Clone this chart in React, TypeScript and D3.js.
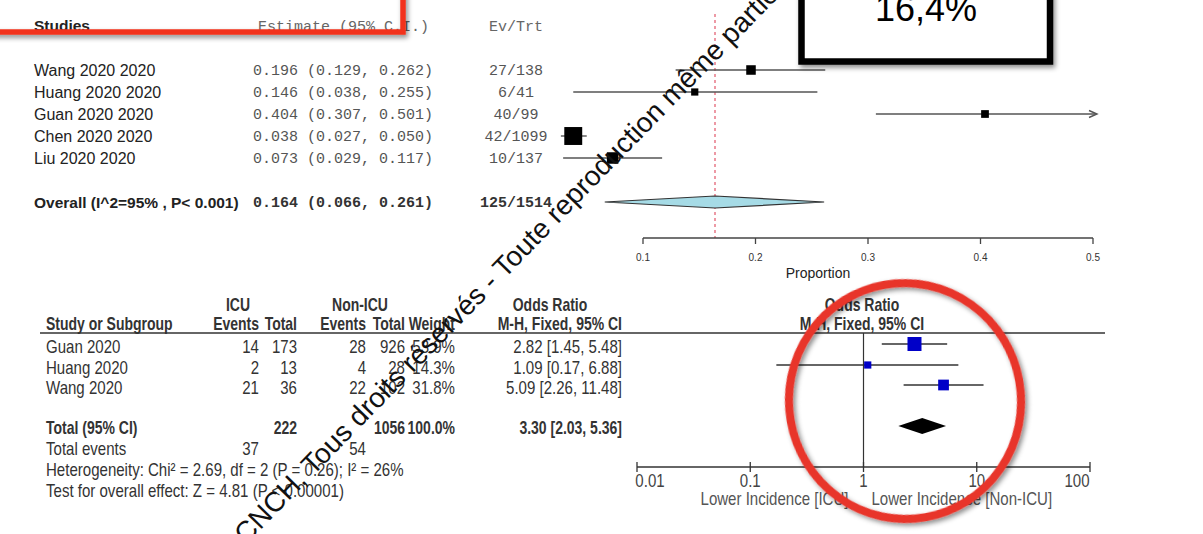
import React from "react";
import * as d3 from "d3";

// ---------- Top forest (proportion) data ----------
const topStudies = ["Wang 2020 2020", "Huang 2020 2020", "Guan 2020 2020", "Chen 2020 2020", "Liu 2020 2020"];
const topEst = [0.196, 0.146, 0.404, 0.038, 0.073];
const topLo = [0.129, 0.038, 0.307, 0.027, 0.029];
const topHi = [0.262, 0.255, 0.501, 0.05, 0.117];
const topEvTrt = ["27/138", "6/41", "40/99", "42/1099", "10/137"];
const overallLabel = "Overall (I^2=95% , P< 0.001)";
const overallEst = 0.164;
const overallLo = 0.066;
const overallHi = 0.261;
const overallEvTrt = "125/1514";
const topTicks = [0.1, 0.2, 0.3, 0.4, 0.5];

// ---------- Bottom forest (odds ratio) data ----------
const orStudies = ["Guan 2020", "Huang 2020", "Wang 2020"];
const icuEvents = [14, 2, 21];
const icuTotal = [173, 13, 36];
const nonIcuEvents = [28, 4, 22];
const nonIcuTotal = [926, 28, 102];
const orWeight = [53.9, 14.3, 31.8];
const orEst = [2.82, 1.09, 5.09];
const orLo = [1.45, 0.17, 2.26];
const orHi = [5.48, 6.88, 11.48];
const orTotalEst = 3.3;
const orTotalLo = 2.03;
const orTotalHi = 5.36;
const orTicks = [0.01, 0.1, 1, 10, 100];
const orTickLabels = ["0.01", "0.1", "1", "10", "100"];
const heterogeneity = "Heterogeneity: Chi\u00b2 = 2.69, df = 2 (P = 0.26); I\u00b2 = 26%";
const overallEffect = "Test for overall effect: Z = 4.81 (P < 0.00001)";
const highlight = "16,4%";
const watermark = "CNCH, Tous droits r\u00e9serv\u00e9s - Toute reproduction m\u00eame partielle interdite";

const SANS = "'Liberation Sans', Arial, sans-serif";
const MONO = "'Liberation Mono', 'Courier New', monospace";

// narrow text helper for the RevMan table
function N({ x, y, anchor = "start", bold = false, fill = "#333", children }: any) {
  return (
    <text
      transform={`translate(${x},${y}) scale(${bold ? 0.8 : 0.86},1)`}
      textAnchor={anchor}
      fontFamily={SANS}
      fontSize={17.5}
      fontWeight={bold ? "bold" : "normal"}
      fill={fill}
    >
      {children}
    </text>
  );
}

export default function App() {
  // ---- top scales ----
  const xTop = d3.scaleLinear().domain([0.1, 0.5]).range([643, 1093]);
  const topRowsY = [70, 92, 114, 136, 158];
  const overallY = 202;
  const topAxisY = 238;
  const invVar = topLo.map((lo, i) => 1 / Math.pow((topHi[i] - lo) / 3.92, 2));
  const boxSize = d3.scaleLog().domain([300, 30000]).range([7, 18]).clamp(true);
  const [tMin, tMax] = xTop.domain();

  // ---- bottom scales ----
  const xOr = d3.scaleLog().domain([0.01, 100]).range([637, 1090]);
  const orRowsY = [347, 368, 388];
  const orTotalY = 428;
  const orAxisY = 467;
  const orBox = d3.scaleSqrt().domain([0, d3.max(orWeight) as number]).range([0, 14]);
  const fmt2 = d3.format(".2f");
  const fmt3 = d3.format(".3f");
  const fmtW = (w: number) => d3.format(".1f")(w) + "%";

  const colEnds = { icuEv: 259, icuTot: 297, nonEv: 366, nonTot: 405, weight: 455, ci: 622 };

  return (
    <svg
      width={1203}
      height={534}
      style={{ position: "absolute", left: 0, top: 0, background: "#fff" }}
      xmlns="http://www.w3.org/2000/svg"
    >
      <defs>
        <filter id="shadow" x="-20%" y="-20%" width="140%" height="140%">
          <feDropShadow dx="2" dy="3" stdDeviation="2.5" floodColor="#000" floodOpacity="0.45" />
        </filter>
      </defs>
      <rect x={0} y={0} width={1203} height={534} fill="#fff" />

      {/* ================= TOP TABLE ================= */}
      <text x={34} y={31} fontFamily={SANS} fontSize={15.5} fontWeight="bold" fill="#222">Studies</text>
      <text x={258} y={31} fontFamily={MONO} fontSize={15} fill="#666">Estimate (95% C.I.)</text>
      <text x={516} y={31} fontFamily={MONO} fontSize={15} fill="#666" textAnchor="middle">Ev/Trt</text>

      {topStudies.map((s, i) => (
        <g key={s}>
          <text x={34} y={topRowsY[i] + 5.5} fontFamily={SANS} fontSize={16} fill="#222">{s}</text>
          <text x={253} y={topRowsY[i] + 5} fontFamily={MONO} fontSize={15} fill="#555">
            {`${fmt3(topEst[i])} (${fmt3(topLo[i])}, ${fmt3(topHi[i])})`}
          </text>
          <text x={516} y={topRowsY[i] + 5} fontFamily={MONO} fontSize={15} fill="#555" textAnchor="middle">
            {topEvTrt[i]}
          </text>
        </g>
      ))}
      <text x={34} y={overallY + 5.5} fontFamily={SANS} fontSize={15.5} fontWeight="bold" fill="#222">{overallLabel}</text>
      <text x={253} y={overallY + 5} fontFamily={MONO} fontSize={15} fontWeight="bold" fill="#333">
        {`${fmt3(overallEst)} (${fmt3(overallLo)}, ${fmt3(overallHi)})`}
      </text>
      <text x={516} y={overallY + 5} fontFamily={MONO} fontSize={15} fontWeight="bold" fill="#333" textAnchor="middle">
        {overallEvTrt}
      </text>

      {/* ================= TOP FOREST ================= */}
      <line
        x1={xTop(overallEst)}
        x2={xTop(overallEst)}
        y1={14}
        y2={topAxisY}
        stroke="#e2576a"
        strokeWidth={1.2}
        strokeDasharray="3,3"
      />
      {topStudies.map((s, i) => {
        const y = topRowsY[i];
        const over = topHi[i] > tMax;
        const x1 = xTop(topLo[i]);
        const x2 = over ? xTop(tMax) + 3 : xTop(topHi[i]);
        const sz = boxSize(invVar[i]);
        return (
          <g key={"tf" + s}>
            <line x1={x1} x2={x2} y1={y} y2={y} stroke="#555" strokeWidth={1.4} />
            {over && (
              <path d={`M${x2 - 7},${y - 3.5} L${x2 + 1},${y} L${x2 - 7},${y + 3.5}`} fill="none" stroke="#555" strokeWidth={1.4} />
            )}
            <rect x={xTop(topEst[i]) - sz / 2} y={y - sz / 2} width={sz} height={sz} fill="#000" />
          </g>
        );
      })}
      <path
        d={`M${xTop(overallLo)},${overallY} L${xTop(overallEst)},${overallY - 6} L${xTop(overallHi)},${overallY} L${xTop(overallEst)},${overallY + 6} Z`}
        fill="#a6dbe6"
        stroke="#333"
        strokeWidth={1.2}
      />
      <line x1={xTop(tMin)} x2={xTop(tMax)} y1={topAxisY} y2={topAxisY} stroke="#444" strokeWidth={1.3} />
      {topTicks.map((t) => (
        <g key={"tt" + t}>
          <line x1={xTop(t)} x2={xTop(t)} y1={topAxisY} y2={topAxisY + 6} stroke="#444" strokeWidth={1.3} />
          <text x={xTop(t)} y={topAxisY + 23} fontFamily={SANS} fontSize={10} fill="#333" textAnchor="middle">
            {String(t)}
          </text>
        </g>
      ))}
      <text x={818} y={278} fontFamily={SANS} fontSize={14} fill="#222" textAnchor="middle">Proportion</text>

      {/* ================= BOTTOM TABLE ================= */}
      <N x={238} y={311} anchor="middle" bold>ICU</N>
      <N x={360} y={311} anchor="middle" bold>Non-ICU</N>
      <N x={550} y={311} anchor="middle" bold>Odds Ratio</N>
      <N x={862} y={311} anchor="middle" bold>Odds Ratio</N>
      <N x={46} y={330} bold>Study or Subgroup</N>
      <N x={colEnds.icuEv} y={330} anchor="end" bold>Events</N>
      <N x={colEnds.icuTot} y={330} anchor="end" bold>Total</N>
      <N x={colEnds.nonEv} y={330} anchor="end" bold>Events</N>
      <N x={colEnds.nonTot} y={330} anchor="end" bold>Total</N>
      <N x={colEnds.weight} y={330} anchor="end" bold>Weight</N>
      <N x={colEnds.ci} y={330} anchor="end" bold>M-H, Fixed, 95% CI</N>
      <N x={862} y={330} anchor="middle" bold>M-H, Fixed, 95% CI</N>
      <line x1={40} x2={1105} y1={333} y2={333} stroke="#333" strokeWidth={1.3} />

      {orStudies.map((s, i) => {
        const y = orRowsY[i] + 6;
        return (
          <g key={"or" + s}>
            <N x={46} y={y}>{s}</N>
            <N x={colEnds.icuEv} y={y} anchor="end">{icuEvents[i]}</N>
            <N x={colEnds.icuTot} y={y} anchor="end">{icuTotal[i]}</N>
            <N x={colEnds.nonEv} y={y} anchor="end">{nonIcuEvents[i]}</N>
            <N x={colEnds.nonTot} y={y} anchor="end">{nonIcuTotal[i]}</N>
            <N x={colEnds.weight} y={y} anchor="end">{fmtW(orWeight[i])}</N>
            <N x={colEnds.ci} y={y} anchor="end">{`${fmt2(orEst[i])} [${fmt2(orLo[i])}, ${fmt2(orHi[i])}]`}</N>
          </g>
        );
      })}
      <N x={46} y={orTotalY + 6} bold>Total (95% CI)</N>
      <N x={colEnds.icuTot} y={orTotalY + 6} anchor="end" bold>{d3.sum(icuTotal)}</N>
      <N x={colEnds.nonTot} y={orTotalY + 6} anchor="end" bold>{d3.sum(nonIcuTotal)}</N>
      <N x={colEnds.weight} y={orTotalY + 6} anchor="end" bold>{fmtW(d3.sum(orWeight))}</N>
      <N x={colEnds.ci} y={orTotalY + 6} anchor="end" bold>{`${fmt2(orTotalEst)} [${fmt2(orTotalLo)}, ${fmt2(orTotalHi)}]`}</N>
      <N x={46} y={455}>Total events</N>
      <N x={colEnds.icuEv} y={455} anchor="end">{d3.sum(icuEvents)}</N>
      <N x={colEnds.nonEv} y={455} anchor="end">{d3.sum(nonIcuEvents)}</N>
      <N x={46} y={476}>{heterogeneity}</N>
      <N x={46} y={497}>{overallEffect}</N>

      {/* ================= BOTTOM FOREST ================= */}
      <line x1={xOr(1)} x2={xOr(1)} y1={333} y2={orAxisY} stroke="#333" strokeWidth={1.2} />
      {orStudies.map((s, i) => {
        const y = orRowsY[i] - 3;
        const sz = orBox(orWeight[i]);
        return (
          <g key={"orf" + s}>
            <line x1={xOr(orLo[i])} x2={xOr(orHi[i])} y1={y} y2={y} stroke="#333" strokeWidth={1.3} />
            <rect x={xOr(orEst[i]) - sz / 2} y={y - sz / 2} width={sz} height={sz} fill="#0000c8" />
          </g>
        );
      })}
      <path
        d={`M${xOr(orTotalLo)},${orTotalY - 2} L${xOr(orTotalEst)},${orTotalY - 10} L${xOr(orTotalHi)},${orTotalY - 2} L${xOr(orTotalEst)},${orTotalY + 6} Z`}
        fill="#000"
      />
      <line x1={xOr(0.01)} x2={xOr(100)} y1={orAxisY} y2={orAxisY} stroke="#333" strokeWidth={1.3} />
      {orTicks.map((t, i) => (
        <g key={"ot" + t}>
          <line x1={xOr(t)} x2={xOr(t)} y1={orAxisY - 5} y2={orAxisY + 5} stroke="#333" strokeWidth={1.3} />
          <N x={xOr(t) + (i === 0 ? 13 : i === 4 ? -13 : 0)} y={orAxisY + 20} anchor="middle" fill="#444">
            {orTickLabels[i]}
          </N>
        </g>
      ))}
      <N x={xOr(1) - 15} y={505} anchor="end" fill="#555">Lower Incidence [ICU]</N>
      <N x={xOr(1) + 8} y={505} fill="#555">Lower Incidence [Non-ICU]</N>

      {/* ================= WATERMARK TEXT ================= */}
      <text
        x={246}
        y={545}
        transform="rotate(-45.8 246 545)"
        fontFamily={SANS}
        fontSize={28}
        fill="#111"
      >
        {watermark}
      </text>

      {/* ================= ANNOTATIONS ================= */}
      <rect x={-20} y={-20} width={423} height={52} fill="none" stroke="#f2321e" strokeWidth={5.5} filter="url(#shadow)" />
      <rect x={801.5} y={-20} width={248.5} height={81.5} fill="#fff" stroke="#000" strokeWidth={6.5} filter="url(#shadow)" />
      <text x={926} y={21} fontFamily={SANS} fontSize={36} fill="#000" textAnchor="middle">{highlight}</text>
      <ellipse
        cx={905}
        cy={401}
        rx={116}
        ry={118}
        transform="rotate(-10 905 401)"
        fill="none"
        stroke="#e8352b"
        strokeWidth={8}
        filter="url(#shadow)"
      />
    </svg>
  );
}
